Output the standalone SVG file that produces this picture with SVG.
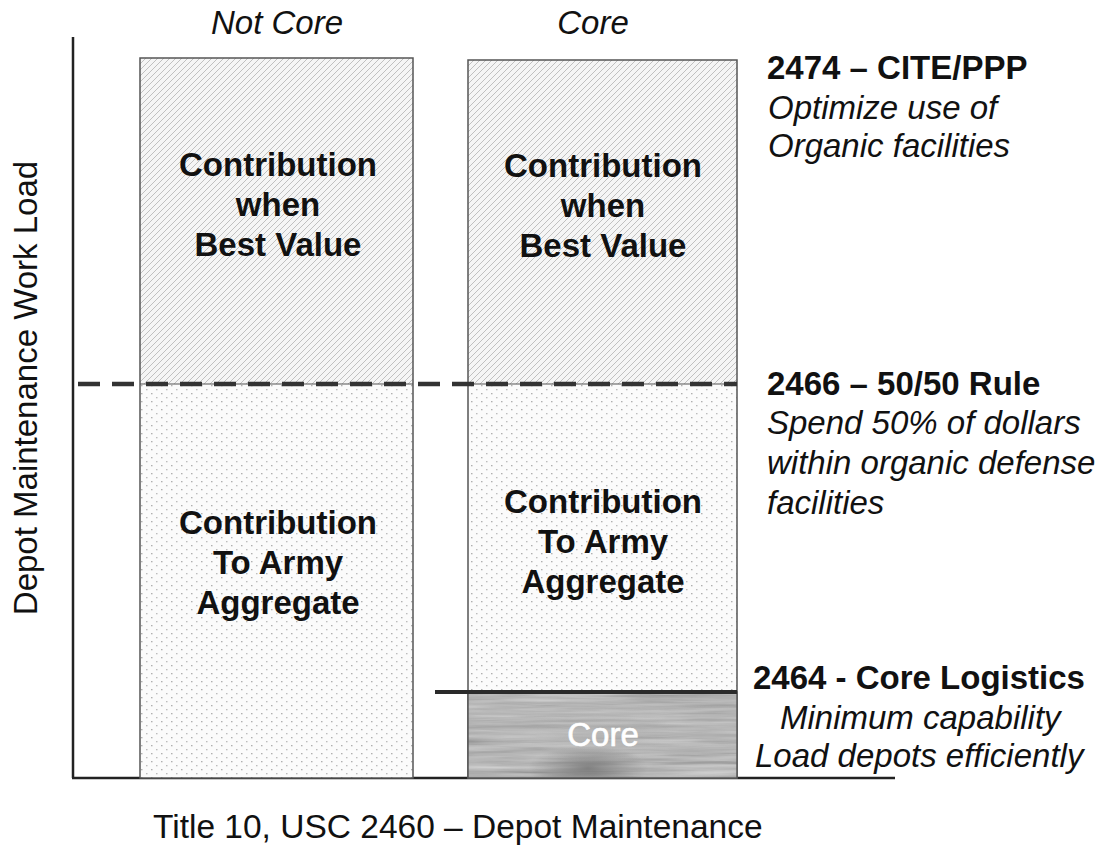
<svg xmlns="http://www.w3.org/2000/svg" width="1105" height="848" viewBox="0 0 1105 848">
  <defs>
    <pattern id="hatch" patternUnits="userSpaceOnUse" width="6" height="6">
      <rect width="6" height="6" fill="#f5f5f5"/>
      <path d="M-1,7 L7,-1 M-1,1 L1,-1 M5,7 L7,5" stroke="#afafaf" stroke-width="0.75"/>
    </pattern>
    <pattern id="dots" patternUnits="userSpaceOnUse" width="10" height="8">
      <rect width="10" height="8" fill="#fbfbfb"/>
      <rect x="1" y="1" width="1.5" height="1.3" fill="#b0b0b0"/>
      <rect x="6" y="5" width="1.5" height="1.3" fill="#bcbcbc"/>
    </pattern>
    <filter id="grain" x="0" y="0" width="100%" height="100%">
      <feTurbulence type="fractalNoise" baseFrequency="0.008 0.2" numOctaves="4" seed="7"/>
      <feColorMatrix type="matrix" values="0.35 0.35 0.35 0 0.03  0.35 0.35 0.35 0 0.03  0.35 0.35 0.35 0 0.03  0 0 0 0 1"/>
    </filter>
    <clipPath id="coreClip">
      <rect x="468" y="692" width="269" height="86"/>
    </clipPath>
    <radialGradient id="spot" cx="0.5" cy="0.5" r="0.5">
      <stop offset="0" stop-color="#6a6a6a" stop-opacity="0.75"/>
      <stop offset="1" stop-color="#6a6a6a" stop-opacity="0"/>
    </radialGradient>
    <radialGradient id="glow" cx="0.5" cy="0.5" r="0.5">
      <stop offset="0" stop-color="#b4b4b4" stop-opacity="0.6"/>
      <stop offset="1" stop-color="#b4b4b4" stop-opacity="0"/>
    </radialGradient>
    <style>
      .box { stroke: #555; stroke-width: 1.5; }
      .lbl { font-family: "Liberation Sans", Arial, sans-serif; font-size: 33px; fill: #111; }
      .b { font-weight: bold; }
      .i { font-style: italic; }
      .mid { text-anchor: middle; }
      .axis { stroke: #222; stroke-width: 2.5; fill: none; }
    </style>
  </defs>

  <rect width="1105" height="848" fill="#ffffff"/>

  <g id="axes">
    <line class="axis" x1="73" y1="37" x2="73" y2="778"/>
    <line class="axis" x1="72" y1="778" x2="895" y2="778"/>
  </g>

  <g id="node-not-core">
    <rect x="140" y="58" width="273" height="326" fill="url(#hatch)"/>
    <rect x="140" y="384" width="273" height="394" fill="url(#dots)"/>
    <rect class="box" x="140" y="58" width="273" height="720" fill="none"/>
    <line x1="140" y1="384" x2="413" y2="384" stroke="#555" stroke-width="1.2"/>
    <text class="lbl b mid" x="278" y="176">Contribution</text>
    <text class="lbl b mid" x="278" y="216">when</text>
    <text class="lbl b mid" x="278" y="256">Best Value</text>
    <text class="lbl b mid" x="278" y="534">Contribution</text>
    <text class="lbl b mid" x="278" y="574">To Army</text>
    <text class="lbl b mid" x="278" y="614">Aggregate</text>
  </g>

  <g id="node-core">
    <rect x="468" y="60" width="269" height="324" fill="url(#hatch)"/>
    <rect x="468" y="384" width="269" height="308" fill="url(#dots)"/>
    <rect class="box" x="468" y="60" width="269" height="718" fill="none"/>
    <line x1="468" y1="384" x2="737" y2="384" stroke="#555" stroke-width="1.2"/>
    <text class="lbl b mid" x="603" y="177">Contribution</text>
    <text class="lbl b mid" x="603" y="217">when</text>
    <text class="lbl b mid" x="603" y="257">Best Value</text>
    <text class="lbl b mid" x="603" y="513">Contribution</text>
    <text class="lbl b mid" x="603" y="553">To Army</text>
    <text class="lbl b mid" x="603" y="593">Aggregate</text>
  </g>

  <g id="node-core-base">
    <g clip-path="url(#coreClip)">
      <rect x="468" y="692" width="269" height="86" filter="url(#grain)"/>
      <rect x="468" y="692" width="269" height="86" fill="#8a8a8a" opacity="0.25"/>
      <ellipse cx="603" cy="736" rx="75" ry="30" fill="url(#glow)"/>
      <ellipse cx="588" cy="768" rx="60" ry="22" fill="url(#spot)"/>
    </g>
    <rect class="box" x="468" y="692" width="269" height="86" fill="none"/>
    <text class="lbl mid" x="603" y="746" style="fill:#ffffff;stroke:#ffffff;stroke-width:0.6">Core</text>
  </g>

  <g id="connectors">
    <line x1="78" y1="384" x2="737" y2="384" stroke="#333" stroke-width="4.5" stroke-dasharray="22 12"/>
    <line x1="435" y1="692" x2="737" y2="692" stroke="#2a2a2a" stroke-width="4"/>
  </g>

  <g id="column-titles">
    <text class="lbl i mid" x="277" y="34">Not Core</text>
    <text class="lbl i mid" x="593" y="34">Core</text>
  </g>

  <g id="rule-2474">
    <text class="lbl b" x="767" y="79">2474 – CITE/PPP</text>
    <text class="lbl i" x="768" y="119">Optimize use of</text>
    <text class="lbl i" x="768" y="157">Organic facilities</text>
  </g>

  <g id="rule-2466">
    <text class="lbl b" x="767" y="395">2466 – 50/50 Rule</text>
    <text class="lbl i" x="767" y="434">Spend 50% of dollars</text>
    <text class="lbl i" x="767" y="474">within organic defense</text>
    <text class="lbl i" x="767" y="514">facilities</text>
  </g>

  <g id="rule-2464">
    <text class="lbl b" x="753" y="689">2464 - Core Logistics</text>
    <text class="lbl i" x="780" y="729">Minimum capability</text>
    <text class="lbl i" x="755" y="767">Load depots efficiently</text>
  </g>

  <g id="axis-labels">
    <text class="lbl" x="153" y="838" style="font-size:33.5px">Title 10, USC 2460 – Depot Maintenance</text>
    <text class="lbl mid" transform="translate(37,388) rotate(-90)" x="0" y="0">Depot Maintenance Work Load</text>
  </g>
</svg>
